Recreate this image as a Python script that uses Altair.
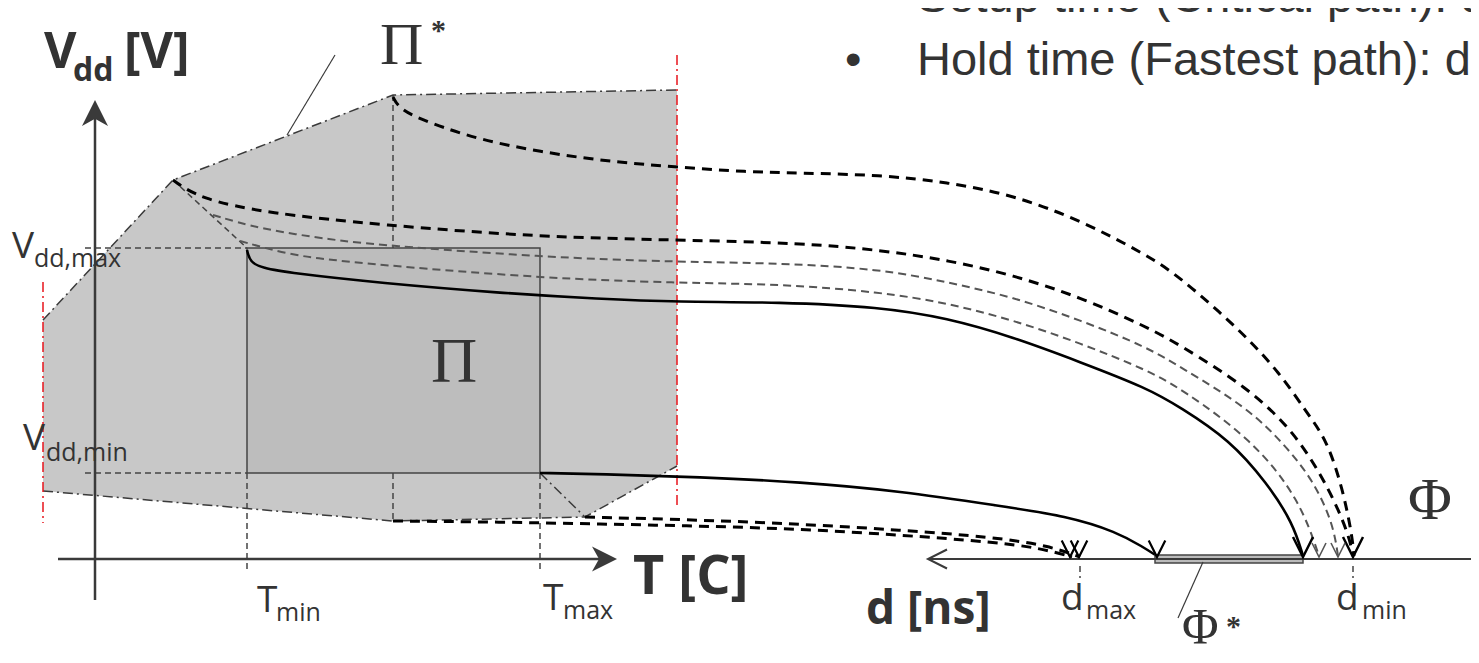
import altair as alt
import pandas as pd

# ---------------- data (reference pixel coordinates) ----------------
# Pi* operating region (grey polygon)
PI_STAR_X = [43, 173, 393, 677, 677, 585, 393, 43]
PI_STAR_Y = [320, 180, 95, 90, 466, 517, 521, 491]
# Pi rectangle
PI_X = [247, 540, 540, 247]
PI_Y = [248, 248, 473, 473]
# Phi* bar on the delay axis
PHI_X = [1155, 1303, 1303, 1155]
PHI_Y = [555, 555, 563, 563]

# curves: thick black dashed
TOP_DASH_X = [393, 400, 430, 480, 547, 613, 677, 747, 800, 880, 947, 1013, 1080, 1147, 1180, 1240, 1280, 1307, 1327, 1343, 1352, 1354]
TOP_DASH_Y = [97, 110, 123, 140, 153, 162, 167, 172, 173, 175, 182, 195, 220, 255, 277, 330, 373, 413, 440, 490, 535, 556]
SEC_DASH_X = [173, 200, 267, 380, 540, 677, 800, 880, 947, 1013, 1080, 1147, 1180, 1247, 1295, 1330, 1349, 1353]
SEC_DASH_Y = [180, 199, 213, 225, 237, 240, 243, 250, 260, 275, 297, 327, 345, 387, 432, 490, 535, 556]
LOW_A_X = [393, 500, 600, 700, 800, 900, 993, 1040, 1072]
LOW_A_Y = [521, 522, 524, 526, 529, 535, 542, 548, 557]
LOW_B_X = [585, 700, 800, 900, 993, 1050, 1080]
LOW_B_Y = [517, 520, 524, 530, 537, 546, 557]
# curves: grey dashed
GREY1_X = [213, 260, 333, 380, 540, 677, 780, 880, 947, 1013, 1080, 1147, 1180, 1247, 1285, 1313, 1333, 1338]
GREY1_Y = [215, 229, 240, 245, 257, 262, 263, 269, 282, 297, 320, 347, 367, 407, 445, 480, 523, 556]
GREY2_X = [240, 290, 333, 380, 540, 677, 780, 880, 947, 1013, 1080, 1147, 1180, 1253, 1300, 1319]
GREY2_Y = [241, 255, 260, 265, 278, 283, 284, 292, 303, 320, 343, 370, 388, 440, 500, 556]
# curves: solid black
UP_SOLID_X = [247, 250, 262, 290, 380, 500, 600, 677, 780, 880, 947, 1013, 1080, 1147, 1180, 1230, 1267, 1293, 1303]
UP_SOLID_Y = [250, 262, 268, 273, 283, 293, 299, 302, 302, 307, 318, 337, 362, 388, 407, 440, 483, 523, 556]
LOW_SOLID_X = [540, 600, 700, 800, 900, 1000, 1067, 1117, 1143, 1157]
LOW_SOLID_Y = [473, 474, 477, 482, 491, 506, 516, 532, 547, 556]

# straight thin dashed guides: (x1, y1, x2, y2)
GUIDE_X1 = [85, 85, 393, 393, 247, 540, 173, 1080, 1353]
GUIDE_Y1 = [248, 473, 95, 473, 473, 473, 180, 566, 566]
GUIDE_X2 = [247, 247, 393, 393, 247, 540, 247, 1080, 1353]
GUIDE_Y2 = [248, 473, 248, 521, 573, 573, 248, 578, 578]

# dash-dot boundary of Pi*
EDGE_X = [43, 173, 393, 677, 43, 393, 585, 677, 540, 585]
EDGE_Y = [320, 180, 95, 90, 491, 521, 517, 466, 473, 517]

# red dash-dot limits
RED_X = [43, 677]
RED_Y1 = [282, 55]
RED_Y2 = [523, 505]

# solid straight lines: axes and leaders
AXIS_X1 = [95, 58, 930, 287, 1203]
AXIS_Y1 = [600, 559, 559, 135, 562]
AXIS_X2 = [95, 600, 1479, 335, 1178]
AXIS_Y2 = [115, 559, 559, 55, 618]
AXIS_W = [2.5, 2.5, 2, 1.2, 1.2]

# arrow heads
VBIG_X = [1303, 1353]
VBIG_Y = [557, 557]
VMID_X = [1157, 1070, 1079]
VMID_Y = [557, 557, 557]
VSMALL_X = [1319, 1338]
VSMALL_Y = [557, 557]

# texts
T_BOLD = ["V", "[V]", "T [C]", "d [ns]", "dd"]
T_BOLD_X = [44, 124, 633, 866, 73]
T_BOLD_Y = [68, 68, 594, 624, 81]
T_BOLD_S = [50, 50, 54, 46, 32]

T_REG = ["V", "V", "T", "T", "d", "d"]
T_REG_X = [12, 23, 257, 543, 1061, 1336]
T_REG_Y = [258, 450, 612, 610, 610, 610]
T_SUB = ["dd,max", "dd,min", "min", "max", "max", "min"]
T_SUB_X = [34, 46, 276, 563, 1086, 1362]
T_SUB_Y = [267, 461, 621, 619, 619, 619]

T_SERIF = ["Π", "Π", "Φ", "Φ"]
T_SERIF_X = [380, 431, 1408, 1182]
T_SERIF_Y = [64, 382, 519, 643]
T_SERIF_S = [60, 64, 60, 50]
T_STAR = ["*", "*"]
T_STAR_X = [431, 1226]
T_STAR_Y = [40, 636]

T_TOP = ["Setup time (Critical path): d", "•", "Hold time (Fastest path): d"]
T_TOP_X = [917, 845, 917]
T_TOP_Y = [12, 75, 75]

# ---------------- helpers ----------------
XS = alt.Scale(domain=[8, 1471], nice=False, zero=False)
YS = alt.Scale(domain=[655, 8], nice=False, zero=False)
X = alt.X("x:Q", scale=XS, axis=None)
Y = alt.Y("y:Q", scale=YS, axis=None)


def poly_feature(xs, ys):
    ring = [[x, y] for x, y in zip(xs, ys)] + [[xs[0], ys[0]]]
    return {"type": "Feature", "properties": {}, "geometry": {"type": "Polygon", "coordinates": [ring]}}


def geo(xs, ys, fill, stroke=None, sw=1.5):
    kw = dict(fill=fill)
    if stroke:
        kw.update(stroke=stroke, strokeWidth=sw)
    else:
        kw.update(strokeWidth=0)
    return (alt.Chart(alt.Data(values=[poly_feature(xs, ys)]))
            .mark_geoshape(**kw)
            .project(type="identity", scale=1, translate=[-8, -8]))


def curves(named, **mk):
    rows = []
    for name, (xs, ys) in named.items():
        for i, (x, y) in enumerate(zip(xs, ys)):
            rows.append({"id": name, "i": i, "x": x, "y": y})
    return alt.Chart(pd.DataFrame(rows)).mark_line(**mk).encode(
        x=X, y=Y, detail="id:N", order="i:Q")


def segs(x1, y1, x2, y2, **mk):
    df = pd.DataFrame({"x": x1, "y": y1, "x2": x2, "y2": y2})
    return alt.Chart(df).mark_rule(**mk).encode(x=X, y=Y, x2="x2:Q", y2="y2:Q")


def pts(xs, ys, shape, size, **mk):
    df = pd.DataFrame({"x": xs, "y": ys})
    return alt.Chart(df).mark_point(shape=shape, size=size, opacity=1, **mk).encode(x=X, y=Y)


def texts(labels, xs, ys, size, font, weight="normal", color="#333333"):
    df = pd.DataFrame({"t": labels, "x": xs, "y": ys, "s": size if isinstance(size, list) else [size] * len(labels)})
    return alt.Chart(df).mark_text(align="left", baseline="alphabetic", font=font,
                                   fontWeight=weight, color=color).encode(
        x=X, y=Y, text="t:N", size=alt.Size("s:Q", scale=None, legend=None))


V_DOWN = "M -0.5 -1 L 0 0 L 0.5 -1"
UP_FILLED = "M 0 0 L 0.5 1 L 0 0.72 L -0.5 1 Z"
RIGHT_FILLED = "M 0 0 L -1 -0.5 L -0.72 0 L -1 0.5 Z"
LEFT_OPEN = "M 1 -0.5 L 0 0 L 1 0.5"

layers = [
    geo(PI_STAR_X, PI_STAR_Y, "#c8c8c8"),
    geo(PI_X, PI_Y, "#bdbdbd", "#444444", 1.5),
    segs(GUIDE_X1, GUIDE_Y1, GUIDE_X2, GUIDE_Y2, color="#444444", strokeWidth=1.5, strokeDash=[6, 4]),
    curves({k: (EDGE_X[i0:i1], EDGE_Y[i0:i1]) for k, i0, i1 in [("top", 0, 4), ("bottom", 4, 8), ("inner", 8, 10)]},
           color="#3a3a3a", strokeWidth=1.5, strokeDash=[10, 4, 2, 4]),
    segs(RED_X, RED_Y1, RED_X, RED_Y2, color="#e8141c", strokeWidth=1.5, strokeDash=[10, 4, 2, 4]),
    curves({"g1": (GREY1_X, GREY1_Y), "g2": (GREY2_X, GREY2_Y)}, interpolate="basis",
           color="#555555", strokeWidth=2, strokeDash=[8, 5]),
    curves({"top": (TOP_DASH_X, TOP_DASH_Y), "sec": (SEC_DASH_X, SEC_DASH_Y),
            "la": (LOW_A_X, LOW_A_Y), "lb": (LOW_B_X, LOW_B_Y)}, interpolate="basis",
           color="#000000", strokeWidth=3, strokeDash=[10, 7]),
    curves({"us": (UP_SOLID_X, UP_SOLID_Y), "ls": (LOW_SOLID_X, LOW_SOLID_Y)}, interpolate="basis",
           color="#000000", strokeWidth=2.6),
    geo(PHI_X, PHI_Y, "#bbbbbb", "#444444", 1.5),
]

# axes and leader lines
for x1, y1, x2, y2, w in zip(AXIS_X1, AXIS_Y1, AXIS_X2, AXIS_Y2, AXIS_W):
    layers.append(segs([x1], [y1], [x2], [y2], color="#3a3a3a", strokeWidth=w))

layers += [
    pts([95], [100], UP_FILLED, 2704, filled=True, color="#3a3a3a"),
    pts([617], [559], RIGHT_FILLED, 2500, filled=True, color="#3a3a3a"),
    pts([928], [559], LEFT_OPEN, 1444, filled=False, color="#3a3a3a", strokeWidth=2),
    pts(VBIG_X, VBIG_Y, V_DOWN, 1600, filled=False, color="#000000", strokeWidth=2.5),
    pts(VMID_X, VMID_Y, V_DOWN, 1100, filled=False, color="#000000", strokeWidth=2.2),
    pts(VSMALL_X, VSMALL_Y, V_DOWN, 784, filled=False, color="#555555", strokeWidth=1.6),
    texts(T_BOLD, T_BOLD_X, T_BOLD_Y, T_BOLD_S, "Open Sans", "bold"),
    texts(T_REG, T_REG_X, T_REG_Y, 37, "Open Sans"),
    texts(T_SUB, T_SUB_X, T_SUB_Y, 25, "Open Sans"),
    texts(T_SERIF, T_SERIF_X, T_SERIF_Y, T_SERIF_S, "Liberation Serif"),
    texts(T_STAR, T_STAR_X, T_STAR_Y, 30, "Liberation Serif", "bold"),
    texts(T_TOP, T_TOP_X, T_TOP_Y, 47, "Liberation Sans"),
]

chart = alt.layer(*layers).properties(
    width=1463, height=647, padding=0,
    autosize=alt.AutoSizeParams(type="none"),
).configure_view(stroke=None)

chart.save("out.html", embed_options={"renderer": "svg", "actions": False})
